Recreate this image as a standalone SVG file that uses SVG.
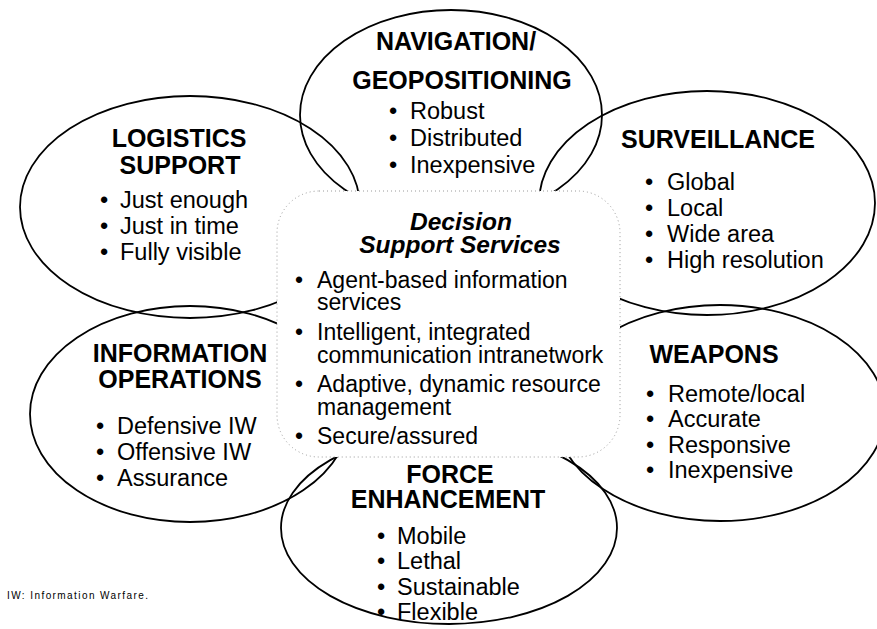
<svg xmlns="http://www.w3.org/2000/svg" width="877" height="629" viewBox="0 0 877 629">
<style>
.e{fill:none;stroke:#000;stroke-width:1.8}
.t{font-family:"Liberation Sans",Arial,sans-serif;font-weight:bold;font-size:25px;fill:#000;text-anchor:middle}
.b{font-family:"Liberation Sans",Arial,sans-serif;font-size:23.5px;fill:#000}
.c{font-family:"Liberation Sans",Arial,sans-serif;font-size:23px;fill:#000}
.ti{font-family:"Liberation Sans",Arial,sans-serif;font-weight:bold;font-style:italic;font-size:24.5px;fill:#000;text-anchor:middle}
.box{fill:#fff;stroke:#9a9a9a;stroke-width:1;stroke-dasharray:1 3}
.fn{font-family:"Liberation Sans",Arial,sans-serif;font-size:10px;fill:#000}
</style>
<rect width="877" height="629" fill="#fff"/>
<g id="connectors"/>
<g id="navigation">
<ellipse class="e" cx="451" cy="115" rx="151" ry="105"/>
<text class="t" x="456" y="50">NAVIGATION/</text>
<text class="t" x="462" y="89">GEOPOSITIONING</text>
<text class="b"><tspan x="389" y="119">•</tspan><tspan x="410" y="119">Robust</tspan><tspan x="389" y="146">•</tspan><tspan x="410" y="146">Distributed</tspan><tspan x="389" y="173">•</tspan><tspan x="410" y="173">Inexpensive</tspan></text>
</g>
<g id="logistics">
<ellipse class="e" cx="190" cy="207" rx="170" ry="111"/>
<text class="t" x="179" y="147">LOGISTICS</text>
<text class="t" x="180" y="174">SUPPORT</text>
<text class="b"><tspan x="100" y="208">•</tspan><tspan x="120" y="208">Just enough</tspan><tspan x="100" y="234">•</tspan><tspan x="120" y="234">Just in time</tspan><tspan x="100" y="260">•</tspan><tspan x="120" y="260">Fully visible</tspan></text>
</g>
<g id="surveillance">
<ellipse class="e" cx="707" cy="203" rx="168" ry="112"/>
<text class="t" x="718" y="148">SURVEILLANCE</text>
<text class="b"><tspan x="645" y="190">•</tspan><tspan x="667" y="190">Global</tspan><tspan x="645" y="216">•</tspan><tspan x="667" y="216">Local</tspan><tspan x="645" y="242">•</tspan><tspan x="667" y="242">Wide area</tspan><tspan x="645" y="268">•</tspan><tspan x="667" y="268">High resolution</tspan></text>
</g>
<g id="information-operations">
<ellipse class="e" cx="190" cy="414" rx="160" ry="108"/>
<text class="t" x="180" y="362">INFORMATION</text>
<text class="t" x="180" y="388">OPERATIONS</text>
<text class="b"><tspan x="96" y="434">•</tspan><tspan x="117" y="434">Defensive IW</tspan><tspan x="96" y="460">•</tspan><tspan x="117" y="460">Offensive IW</tspan><tspan x="96" y="486">•</tspan><tspan x="117" y="486">Assurance</tspan></text>
</g>
<g id="weapons">
<ellipse class="e" cx="720" cy="413" rx="165" ry="108"/>
<text class="t" x="714" y="363">WEAPONS</text>
<text class="b"><tspan x="646" y="402">•</tspan><tspan x="668" y="402">Remote/local</tspan><tspan x="646" y="427">•</tspan><tspan x="668" y="427">Accurate</tspan><tspan x="646" y="453">•</tspan><tspan x="668" y="453">Responsive</tspan><tspan x="646" y="478">•</tspan><tspan x="668" y="478">Inexpensive</tspan></text>
</g>
<g id="force-enhancement">
<ellipse class="e" cx="449" cy="528" rx="168" ry="96"/>
<text class="t" x="450" y="483">FORCE</text>
<text class="t" x="448" y="508">ENHANCEMENT</text>
<text class="b"><tspan x="377" y="544">•</tspan><tspan x="397" y="544">Mobile</tspan><tspan x="377" y="569">•</tspan><tspan x="397" y="569">Lethal</tspan><tspan x="377" y="595">•</tspan><tspan x="397" y="595">Sustainable</tspan><tspan x="377" y="620">•</tspan><tspan x="397" y="620">Flexible</tspan></text>
</g>
<g id="decision-support">
<rect class="box" x="277" y="191" width="343" height="266" rx="42" ry="42"/>
<text class="ti" x="461" y="230">Decision</text>
<text class="ti" x="460" y="253">Support Services</text>
<text class="c"><tspan x="295" y="288">•</tspan><tspan x="317" y="288">Agent-based information</tspan><tspan x="317" y="310">services</tspan><tspan x="295" y="340">•</tspan><tspan x="317" y="340">Intelligent, integrated</tspan><tspan x="317" y="363">communication intranetwork</tspan><tspan x="295" y="392">•</tspan><tspan x="317" y="392">Adaptive, dynamic resource</tspan><tspan x="317" y="415">management</tspan><tspan x="295" y="444">•</tspan><tspan x="317" y="444">Secure/assured</tspan></text>
</g>
<text class="fn" x="7" y="599" textLength="141" lengthAdjust="spacing">IW: Information Warfare.</text>
</svg>
